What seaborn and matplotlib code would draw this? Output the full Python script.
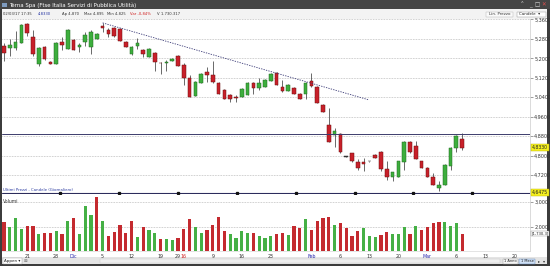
import numpy as np
import pandas as pd
import matplotlib
matplotlib.use("Agg")
import matplotlib.pyplot as plt
from matplotlib.patches import Rectangle
import seaborn as sns

# ---------------- data (daily candles) ----------------
opens = [5.251, 5.243, 5.243, 5.264, 5.342, 5.288, 5.178, 5.247, 5.186, 5.178,
         5.268, 5.239, 5.276, 5.247, 5.268, 5.247, 5.280, 5.333, 5.317, 5.325,
         5.321, 5.268, 5.219, 5.251, 5.235, 5.206, 5.223, 5.182, 5.182, 5.190,
         5.210, 5.173, 5.120, 5.046, 5.100, 5.145, 5.132, 5.100, 5.071, 5.050,
         5.042, 5.042, 5.050, 5.100, 5.079, 5.083, 5.108, 5.141, 5.083, 5.067,
         5.079, 5.055, 5.055, 5.108, 5.083, 5.010, 4.927, 4.886, 4.890, 4.796,
         4.809, 4.772, 4.772, 4.776, 4.804, 4.813, 4.743, 4.714, 4.714, 4.772,
         4.858, 4.841, 4.776, 4.751, 4.714, 4.665, 4.681, 4.759, 4.833, 4.870]
highs = [5.264, 5.280, 5.313, 5.342, 5.346, 5.317, 5.247, 5.251, 5.188, 5.266,
         5.288, 5.319, 5.278, 5.264, 5.309, 5.317, 5.303, 5.346, 5.325, 5.329,
         5.323, 5.270, 5.251, 5.284, 5.239, 5.241, 5.227, 5.186, 5.194, 5.200,
         5.212, 5.182, 5.132, 5.106, 5.139, 5.165, 5.190, 5.102, 5.073, 5.055,
         5.050, 5.077, 5.102, 5.104, 5.120, 5.114, 5.139, 5.145, 5.112, 5.093,
         5.081, 5.057, 5.104, 5.141, 5.087, 5.012, 4.997, 4.915, 4.894, 4.797,
         4.811, 4.788, 4.792, 4.777, 4.805, 4.817, 4.776, 4.733, 4.778, 4.860,
         4.860, 4.862, 4.778, 4.753, 4.727, 4.694, 4.765, 4.837, 4.886, 4.895]
lows = [5.190, 5.210, 5.235, 5.262, 5.292, 5.210, 5.169, 5.194, 5.176, 5.176,
        5.235, 5.237, 5.233, 5.227, 5.251, 5.219, 5.278, 5.309, 5.288, 5.290,
        5.270, 5.245, 5.215, 5.239, 5.206, 5.204, 5.149, 5.137, 5.149, 5.188,
        5.167, 5.091, 5.040, 5.044, 5.098, 5.104, 5.100, 5.053, 5.032, 5.022,
        5.022, 5.040, 5.048, 5.055, 5.071, 5.081, 5.106, 5.089, 5.063, 5.065,
        5.053, 5.032, 5.034, 5.083, 5.016, 4.979, 4.854, 4.837, 4.811, 4.795,
        4.774, 4.739, 4.735, 4.775, 4.790, 4.735, 4.698, 4.694, 4.712, 4.739,
        4.811, 4.784, 4.749, 4.712, 4.677, 4.653, 4.679, 4.739, 4.813, 4.825]
closes = [5.223, 5.255, 5.268, 5.337, 5.305, 5.219, 5.243, 5.198, 5.178, 5.264,
          5.255, 5.317, 5.235, 5.255, 5.296, 5.309, 5.301, 5.325, 5.301, 5.292,
          5.272, 5.247, 5.247, 5.264, 5.219, 5.239, 5.186, 5.181, 5.186, 5.198,
          5.169, 5.120, 5.042, 5.104, 5.137, 5.132, 5.104, 5.055, 5.034, 5.034,
          5.038, 5.075, 5.100, 5.079, 5.100, 5.112, 5.137, 5.091, 5.067, 5.091,
          5.055, 5.034, 5.100, 5.087, 5.018, 4.981, 4.858, 4.903, 4.813, 4.796,
          4.776, 4.751, 4.764, 4.776, 4.792, 4.743, 4.710, 4.731, 4.776, 4.858,
          4.813, 4.788, 4.751, 4.714, 4.681, 4.677, 4.763, 4.833, 4.882, 4.833]
volumes = [2213, 2013, 2373, 1920, 2040, 2040, 1720, 1773, 1773, 1840,
           1720, 2253, 2373, 1720, 2840, 2493, 3187, 2253, 1640, 1813,
           2093, 1773, 2253, 1613, 2013, 1880, 1773, 1520, 1533, 1480,
           1573, 1933, 2320, 2013, 1773, 1880, 2093, 2413, 1840, 1720,
           1573, 1853, 1773, 1773, 1640, 1573, 1640, 1720, 1747, 1667,
           2040, 1973, 2307, 1880, 2240, 2347, 2413, 2080, 2173, 1973,
           1640, 1840, 1973, 1627, 1587, 1680, 1813, 1720, 1720, 2013,
           1720, 2040, 1880, 2013, 2173, 2200, 2213, 2040, 2173, 1730]
vol_dir = list("duuudduddudud" "uuududdddd" "uduuduudddu" "uddddu" "uuuduuu"
               "ddudduddddudddduuudduuududdddu" "uud")
tick_idx = [4, 9, 12, 17, 22, 27, 30, 31, 36, 41, 46, 53, 58, 63, 68, 73, 78, 83, 88]
tick_lbl = ["21", "28", "Dic", "5", "12", "19", "29", "16", "9", "16", "23",
            "Feb", "6", "13", "20", "Mar", "6", "13", "20"]
tick_kind = ["d", "d", "m", "d", "d", "d", "d", "y", "d", "d", "d",
             "m", "d", "d", "d", "m", "d", "d", "d"]
price_ticks = [4.72, 4.80, 4.88, 4.96, 5.04, 5.12, 5.20, 5.28, 5.36]
vol_ticks = [2000, 3000]
trend_x = [17, 62.8]
trend_y = [5.346, 5.030]
hline_level = 4.888
hline_low = 4.648
last_vol_label = "[1,730.3]"

# ---------------- layout helpers ----------------
W, H = 550, 266
def fx(px): return px / W
def fy(py): return 1 - py / H

sns.set_style("white")
plt.rcParams["font.family"] = ["DejaVu Sans"]

fig = plt.figure(figsize=(5.5, 2.66), dpi=100)
fig.patch.set_facecolor("#3c3c3c")

def frect(x0, y0, x1, y1, fc, ec="none", lw=0.0, z=-1):
    fig.patches.append(Rectangle((fx(x0), fy(y1)), fx(x1) - fx(x0), fy(y0) - fy(y1),
                                 transform=fig.transFigure, facecolor=fc,
                                 edgecolor=ec, linewidth=lw, zorder=z))

# window chrome
frect(0, 0, 550, 9, "#454545", z=-3)
frect(2, 9, 547, 264, "white", z=-2)
frect(2, 9, 547, 19, "#f3f3f3")
frect(2, 257, 547, 264, "#e4e4e4")
frect(2, 18.6, 547, 19, "#c8c8c8")
frect(2, 3, 7, 7, "#7f9cc0")
fig.text(fx(9), fy(5), "Terna Spa (Ftse Italia Servizi di Pubblica Utilità)",
         color="white", fontsize=3.9, va="center", ha="left")
for xx, s, c in [(522, "⌃", "#dddddd"), (530, "_", "#dddddd"),
                 (537, "□", "#dddddd"), (544, "✕", "#e05050")]:
    fig.text(fx(xx), fy(5), s, color=c, fontsize=4, va="center", ha="center")

# toolbar texts
tb = [(3, "02/03/17 17:35", "#333333"), (38, "4,8330", "#2030a0"),
      (62, "Ap 4,870", "#333333"), (84, "Max 4,895", "#333333"),
      (107, "Min 4,825", "#333333"), (130, "Var -0,84%", "#d02020"),
      (157, "V 1.730.317", "#333333")]
for xx, s, c in tb:
    fig.text(fx(xx), fy(14), s, color=c, fontsize=2.7, va="center", ha="left")
frect(486, 11.5, 513, 17, "#fafafa", ec="#b0b0b0", lw=0.3)
fig.text(fx(499.5), fy(14.2), "Lin. Prezzo", fontsize=2.9, color="#333333",
         ha="center", va="center")
frect(517, 11.5, 546, 17, "white", ec="#909090", lw=0.3)
fig.text(fx(530), fy(14.2), "Candele  ▾", fontsize=2.9, color="#222222",
         ha="center", va="center")

# bottom bar
frect(3, 258, 22, 263.5, "white", ec="#a0a0a0", lw=0.3)
fig.text(fx(4), fy(260.8), "Appen ▾", fontsize=2.9, color="#222222", va="center")
fig.text(fx(24), fy(260.8), "⊠", fontsize=3.2, color="#777777", va="center")
frect(100, 259, 500, 262.5, "#eeeeee", ec="#c8c8c8", lw=0.3)
frect(503, 258.5, 518, 263.5, "#f6f6f6", ec="#9a9a9a", lw=0.3)
fig.text(fx(510.5), fy(261), "1 Anno", fontsize=2.6, color="#222222",
         ha="center", va="center")
frect(519, 258.5, 535, 263.5, "#cfe0f5", ec="#5a7fb0", lw=0.3)
fig.text(fx(527), fy(261), "1 Mese", fontsize=2.6, color="#222222",
         ha="center", va="center")
fig.text(fx(539), fy(261), "▸", fontsize=3, color="#333333", ha="center", va="center")
fig.text(fx(544), fy(261), "▾", fontsize=3, color="#333333", ha="center", va="center")

# ---------------- price panel ----------------
axp = fig.add_axes([fx(2), fy(194), fx(530) - fx(2), (194 - 19) / H])
axv = fig.add_axes([fx(2), fy(251), fx(530) - fx(2), (251 - 195) / H])

n = len(opens)
x = np.arange(n)
o = np.array(opens); c = np.array(closes)
h = np.array(highs); l = np.array(lows)
GREEN, GREEN_E = "#3dae3d", "#1f6a1f"
RED, RED_E = "#c8202a", "#6e1010"
body_fc, body_ec = [], []
for oo, cc in zip(o, c):
    if abs(cc - oo) < 1e-4:
        body_fc.append("#333333"); body_ec.append("#333333")
    elif cc > oo:
        body_fc.append(GREEN); body_ec.append(GREEN_E)
    else:
        body_fc.append(RED); body_ec.append(RED_E)

axp.vlines(x, l, h, color="#2e2e2e", lw=0.5, zorder=2)
axp.bar(x, np.maximum(np.abs(c - o), 0.0012), bottom=np.minimum(o, c), width=0.64,
        color=body_fc, edgecolor=body_ec, linewidth=0.35, zorder=3)

axp.plot(trend_x, trend_y, ls=(0, (1.6, 1.4)), color="#3c3c78", lw=0.6, zorder=4)
axp.axhline(hline_level, color="#3c3c6c", lw=0.7, zorder=4)
axp.axhline(hline_low, color="#2c2c5c", lw=0.8, zorder=4)
handles_x = 9.7 + 10.15 * np.arange(8)
axp.plot(handles_x, [hline_low] * len(handles_x), "s", ms=1.4, color="#111111",
         zorder=5, clip_on=False)

axp.set_xlim(-0.35, 90.7)
axp.set_ylim(4.642, 5.362)
axp.set_yticks(price_ticks)
axp.set_yticklabels([f"{v:.4f}".replace(".", ",") for v in price_ticks])
axp.yaxis.tick_right()
axp.tick_params(axis="y", length=2, width=0.4, pad=1, labelsize=3.5,
                colors="#555555", labelcolor="#333333")
axp.set_xticks([])
axp.grid(axis="y", ls=(0, (1, 1.3)), lw=0.5, color="#a6a6a6")
axp.grid(axis="x", visible=False)
for s in ["left", "top", "bottom"]:
    axp.spines[s].set_visible(False)
axp.spines["right"].set_color("#cccccc")
axp.spines["right"].set_linewidth(0.5)

ytr = axp.get_yaxis_transform()
axp.text(1.004, c[-1], f"{c[-1]:.4f}".replace(".", ","), transform=ytr, fontsize=3.3,
         va="center", ha="left", color="#222222",
         bbox=dict(boxstyle="square,pad=0.15", fc="#f5f020", ec="#b8b000", lw=0.3))
axp.text(1.004, hline_low, f"{hline_low - 0.0005:.4f}".replace(".", ","), transform=ytr,
         fontsize=3.3, va="center", ha="left", color="#222222",
         bbox=dict(boxstyle="square,pad=0.15", fc="#f5f020", ec="#b8b000", lw=0.3),
         clip_on=False)
axp.text(0.002, 4.652, "Ultimi Prezzi - Candele (Giornaliero)", transform=axp.get_yaxis_transform(),
         fontsize=2.8, color="#2a3aa0", va="bottom", ha="left")

# ---------------- volume panel ----------------
dfv = pd.DataFrame({"idx": x, "vol": volumes, "dir": vol_dir})
sns.barplot(data=dfv, x="idx", y="vol", hue="dir", palette={"u": "#45b045", "d": "#c42a2f"},
            native_scale=True, dodge=False, width=0.55, legend=False, saturation=1,
            linewidth=0, ax=axv)
axv.set_xlabel(""); axv.set_ylabel("")
axv.set_xlim(-0.35, 90.7)
axv.set_ylim(1040, 3280)
axv.set_yticks(vol_ticks)
axv.set_yticklabels([f"{v:,}" for v in vol_ticks])
axv.yaxis.tick_right()
axv.tick_params(axis="y", length=2, width=0.4, pad=1, labelsize=3.5,
                colors="#555555", labelcolor="#333333")
axv.grid(axis="y", ls=(0, (1, 1.3)), lw=0.5, color="#a6a6a6")
axv.grid(axis="x", visible=False)
axv.set_xticks(tick_idx)
axv.set_xticklabels(tick_lbl)
axv.tick_params(axis="x", length=1.5, width=0.4, pad=0.8, labelsize=3.4,
                colors="#555555")
kind_col = {"d": "#333333", "m": "#2b2bb0", "y": "#d02020"}
for lab, k in zip(axv.get_xticklabels(), tick_kind):
    lab.set_color(kind_col[k])
for s in ["left", "top"]:
    axv.spines[s].set_visible(False)
axv.spines["right"].set_color("#cccccc"); axv.spines["right"].set_linewidth(0.5)
axv.spines["bottom"].set_color("#d0d0d0"); axv.spines["bottom"].set_linewidth(0.4)
axv.text(0.002, 0.93, "Volumi", transform=axv.transAxes, fontsize=3.3,
         color="#333333", va="top", ha="left")
axv.text(1.003, volumes[-1], last_vol_label, transform=axv.get_yaxis_transform(),
         fontsize=2.7, va="center", ha="left", color="#222222",
         bbox=dict(boxstyle="square,pad=0.1", fc="white", ec="#888888", lw=0.3))

fig.savefig("out.png", dpi=100, facecolor=fig.get_facecolor())
